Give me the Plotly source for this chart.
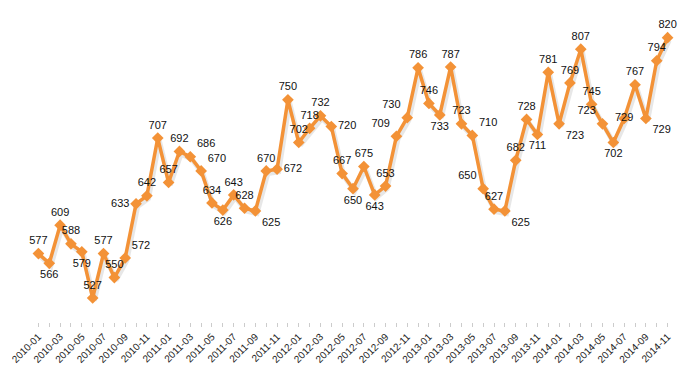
import plotly.graph_objects as go

months = [f"{y}-{m:02d}" for y in range(2010, 2015) for m in range(1, 13)][:59]

values = [577, 566, 609, 588, 579, 527, 577, 550, 572, 633, 642, 707,
          657, 692, 686, 670, 634, 626, 643, 628, 625, 670, 672, 750,
          702, 718, 732, 720, 667, 650, 675, 643, 653, 709, 730, 786,
          746, 733, 787, 723, 710, 650, 627, 625, 682, 728, 711, 781,
          723, 769, 807, 745, 723, 702, 729, 767, 729, 794, 820]

label_pos = ["top center", "bottom center", "top center", "top center", "bottom center",
             "top center", "top center", "top center", "top right", "middle left",
             "top center", "top center", "top center", "top center", "top right",
             "top right", "top center", "bottom center", "top center", "top center",
             "bottom right", "top center", "middle right", "top center", "top center",
             "top center", "top center", "middle right", "top center", "bottom center",
             "top center", "bottom center", "top center", "top left", "top left",
             "top center", "top center", "bottom center", "top center", "top center",
             "top right", "top left", "top center", "bottom right", "top center",
             "top center", "bottom center", "top center", "bottom right", "top center",
             "top center", "top center", "top left", "bottom center", "middle center",
             "top center", "bottom right", "top center", "top center"]

idx = list(range(len(values)))
tick_text = [m if i % 2 == 0 else "" for i, m in enumerate(months)]

fig = go.Figure()
# soft shadow
fig.add_trace(go.Scatter(
    x=[i + 0.15 for i in idx], y=[v - 3 for v in values],
    mode="lines", line=dict(color="rgba(120,120,120,0.18)", width=5),
    hoverinfo="skip", showlegend=False, cliponaxis=False))
fig.add_trace(go.Scatter(
    x=idx, y=values, mode="lines+markers+text",
    line=dict(color="#F39237", width=3.5),
    marker=dict(symbol="diamond", size=9, color="#F39237"),
    text=[str(v) for v in values], textposition=label_pos,
    textfont=dict(family="Liberation Sans, Arial", size=11, color="#111111"),
    cliponaxis=False, showlegend=False))

fig.update_layout(
    width=680, height=365,
    margin=dict(l=25, r=15, t=3, b=51),
    paper_bgcolor="white", plot_bgcolor="white",
    font=dict(family="Liberation Sans, Arial", size=10, color="#222222"),
    xaxis=dict(range=[-0.5, 58.5], tickmode="array", tickvals=idx, ticktext=tick_text,
               tickangle=-45, ticks="outside", ticklen=4, tickcolor="#cccccc",
               showgrid=False, zeroline=False, showline=False, automargin=False,
               tickfont=dict(size=10, color="#222222")),
    yaxis=dict(range=[500, 850], visible=False, showgrid=False, zeroline=False,
               automargin=False),
)

fig.write_html("out.html")
